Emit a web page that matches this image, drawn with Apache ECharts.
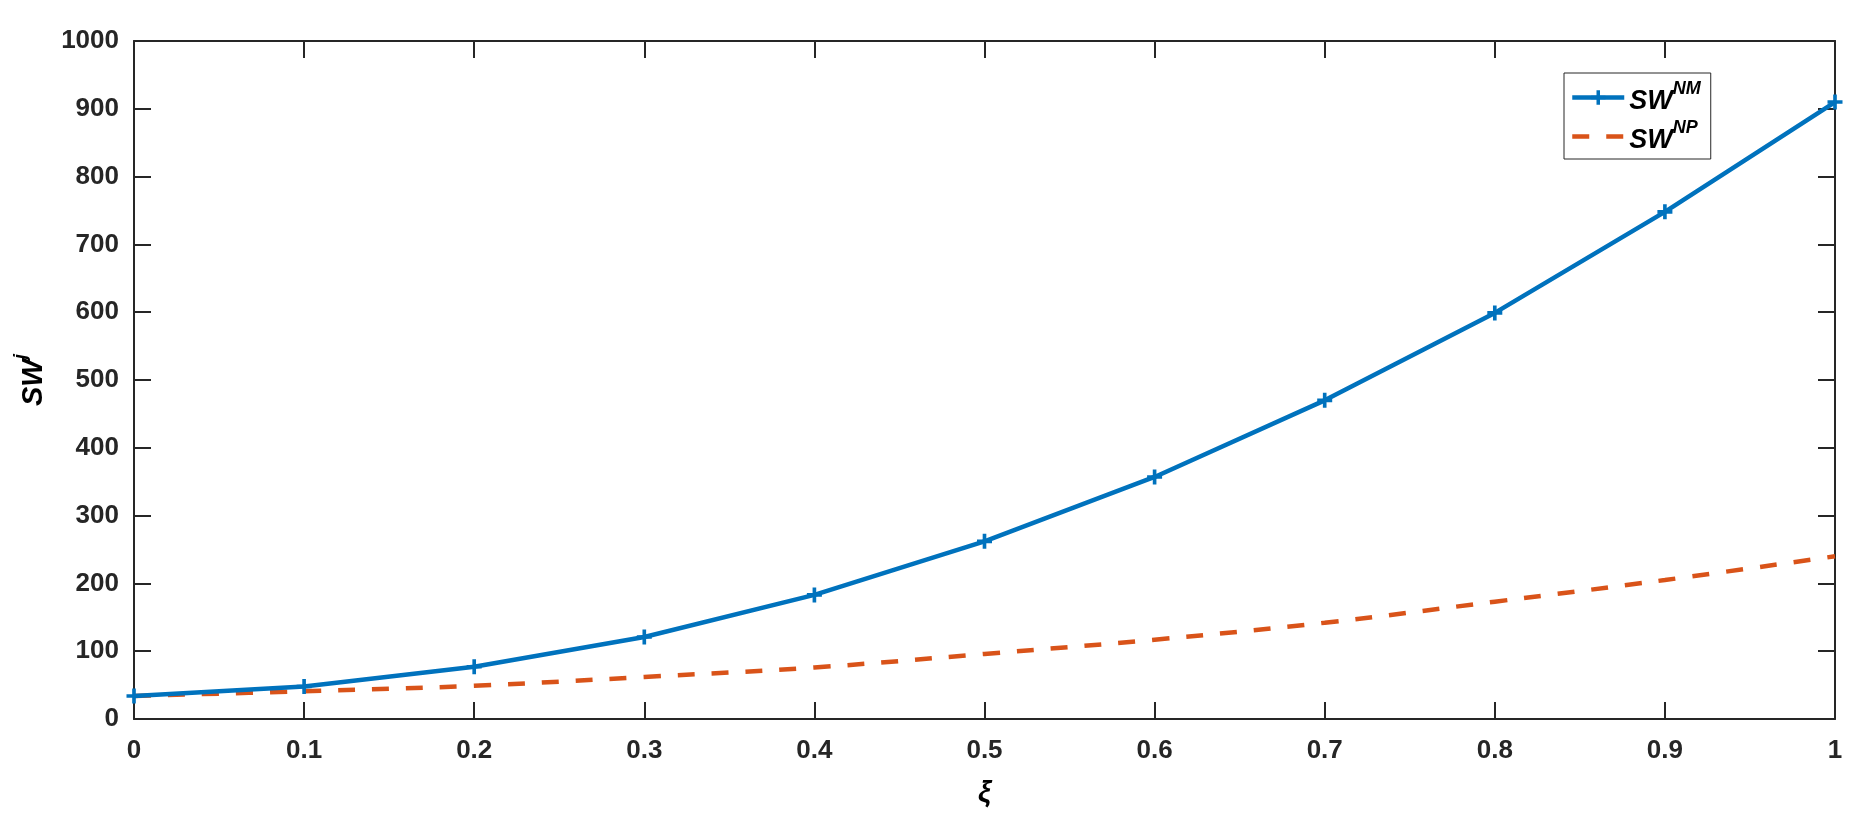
<!DOCTYPE html>
<html>
<head>
<meta charset="utf-8">
<script src="https://cdn.jsdelivr.net/npm/echarts@6/dist/echarts.min.js"></script>
<style>
  html, body { margin: 0; padding: 0; background: #fff; }
  #chart { width: 1857px; height: 821px; }
</style>
</head>
<body>
<div id="chart"></div>
<script>
// xi values on the x axis
const xi = [0, 0.1, 0.2, 0.3, 0.4, 0.5, 0.6, 0.7, 0.8, 0.9, 1];
// SW^NM (blue, solid with + markers)
const swNM = [34, 48, 77, 121, 183, 262, 357, 470, 599, 748, 910];
// SW^NP (orange, dashed)
const swNP = [34, 41, 49, 62, 76, 96, 117, 142, 173, 205, 240];

const axisColor = "#262626";
const fontFamily = "'Liberation Sans', Arial, sans-serif";
const plusPath = "path://M-1.7,-7H1.7V-1.7H7V1.7H1.7V7H-1.7V1.7H-7V-1.7H-1.7Z";

// rich text for SW with superscript
function richSW(base, sup) {
  return {
    b: { fontSize: base, fontWeight: "bold", fontStyle: "italic", fontFamily: fontFamily, color: "#000", lineHeight: base + 8, verticalAlign: "bottom" },
    s: { fontSize: sup, fontWeight: "bold", fontStyle: "italic", fontFamily: fontFamily, color: "#000", lineHeight: sup, verticalAlign: "top" },
  };
}

const tickStyle = { color: axisColor, width: 2 };

const chart = echarts.init(document.getElementById("chart"));

const option = {
  animation: false,
  grid: { left: 134, right: 22, top: 41, bottom: 102, containLabel: false },

  legend: {
    orient: "vertical",
    left: 1564,
    top: 73,
    padding: [7, 10, 5, 6],
    itemGap: 4,
    itemWidth: 52,
    itemHeight: 18,
    borderColor: axisColor,
    borderWidth: 1,
    lineStyle: { width: 4.5 },
    data: [
      { name: "NM" },
      { name: "NP", itemStyle: { color: "rgba(0,0,0,0)", opacity: 0 } },
    ],
    formatter: (name) => "{b|SW}{s|" + name + "}",
    textStyle: { rich: richSW(27, 18) },
  },

  xAxis: [
    {
      type: "value",
      min: 0,
      max: 1,
      interval: 0.1,
      name: "ξ",
      nameLocation: "middle",
      nameGap: 60,
      nameTextStyle: { fontSize: 29, fontWeight: "bold", fontStyle: "italic", fontFamily: fontFamily, color: "#000" },
      axisLine: { onZero: false, lineStyle: tickStyle },
      axisTick: { inside: true, length: 17, lineStyle: tickStyle },
      axisLabel: {
        margin: 19,
        fontSize: 26,
        fontWeight: "bold",
        fontFamily: fontFamily,
        color: axisColor,
        formatter: (v) => String(+v.toFixed(1)),
      },
      splitLine: { show: false },
    },
    {
      type: "value",
      position: "top",
      min: 0,
      max: 1,
      interval: 0.1,
      axisLine: { onZero: false, lineStyle: tickStyle },
      axisTick: { inside: true, length: 17, lineStyle: tickStyle },
      axisLabel: { show: false },
      splitLine: { show: false },
    },
  ],

  yAxis: [
    {
      type: "value",
      min: 0,
      max: 1000,
      interval: 100,
      name: "{b|SW}{s|j}",
      nameLocation: "middle",
      nameRotate: 90,
      nameGap: 86,
      nameTextStyle: { rich: richSW(29, 19) },
      axisLine: { show: true, onZero: false, lineStyle: tickStyle },
      axisTick: { show: true, inside: true, length: 17, lineStyle: tickStyle },
      axisLabel: {
        margin: 15,
        fontSize: 26,
        fontWeight: "bold",
        fontFamily: fontFamily,
        color: axisColor,
        formatter: (v) => String(v),
      },
      splitLine: { show: false },
    },
    {
      type: "value",
      position: "right",
      min: 0,
      max: 1000,
      interval: 100,
      axisLine: { show: true, onZero: false, lineStyle: tickStyle },
      axisTick: { show: true, inside: true, length: 17, lineStyle: tickStyle },
      axisLabel: { show: false },
      splitLine: { show: false },
    },
  ],

  series: [
    {
      name: "NM",
      type: "line",
      data: xi.map((x, i) => [x, swNM[i]]),
      symbol: plusPath,
      symbolSize: 15,
      showAllSymbol: true,
      itemStyle: { color: "#0072BD" },
      lineStyle: { color: "#0072BD", width: 4.5 },
      z: 3,
    },
    {
      name: "NP",
      type: "line",
      data: xi.map((x, i) => [x, swNP[i]]),
      smooth: 0.4,
      symbol: "circle",
      showSymbol: false,
      itemStyle: { color: "#D95319" },
      lineStyle: { color: "#D95319", width: 4.5, type: [17, 17] },
      z: 2,
    },
  ],
};

chart.setOption(option);
</script>
</body>
</html>
